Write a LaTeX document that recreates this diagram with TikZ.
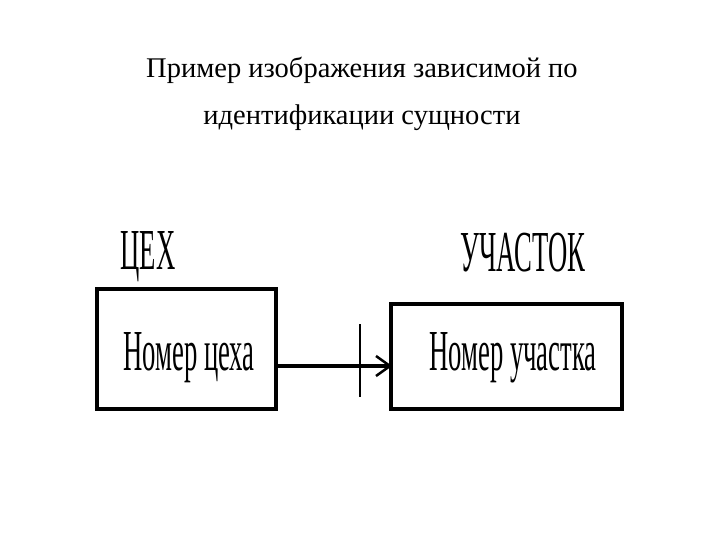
\documentclass[tikz,border=0pt]{standalone}
\usepackage{fontspec}
\setmainfont{Liberation Serif}
\begin{document}
\begin{tikzpicture}[x=1pt,y=-1pt,
  box/.style={draw,line width=3.5pt},
  cond/.style={font=\fontsize{58}{58}\selectfont,xscale=0.46,transform shape,inner sep=0},
  title/.style={font=\fontsize{28.5}{30}\selectfont,inner sep=0}]
\useasboundingbox (0,0) rectangle (720,540);
\node[title] (t1) at (362,70) {Пример изображения зависимой по};
\node[title] (t2) at (362,118) {идентификации сущности};
\draw[box] (97,289) rectangle (276,409);
\draw[box] (391,304) rectangle (622,409);
\node[cond] (a) at (189,358) {Номер цеха};
\node[cond] (b) at (513,358) {Номер участка};
\node[cond] (la) at (148,257) {ЦЕХ};
\node[cond] (lb) at (523,253) {УЧАСТОК};
\coordinate (s) at (277,366);
\coordinate (e) at (390,366);
\draw[line width=3.5pt] (s) -- (e);
\draw[line width=2pt] (360,324) -- (360,397);
\draw[line width=2.5pt] (376,356) -- (390,366) -- (376,376);
\end{tikzpicture}
\end{document}
